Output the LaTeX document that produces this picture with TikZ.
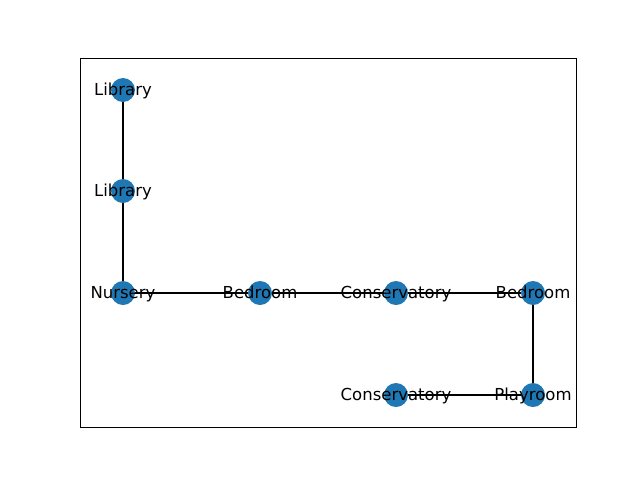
\documentclass[tikz,border=0pt]{standalone}
\usepackage{fontspec}
\setmainfont{DejaVu Sans}
\usetikzlibrary{backgrounds}
\begin{document}
\begin{tikzpicture}
[x=1pt, y=-1pt, every label/.style={font=\fontsize{16.5}{19}\selectfont, text height=1.5ex, text depth=0.25ex, inner sep=0pt, yshift=-2pt}]
\tikzstyle{room}=[circle, fill={rgb,255:red,31;green,119;blue,180}, inner sep=0mm, minimum size=24pt]
\useasboundingbox (0,0) rectangle (640,480);
\draw[line width=0.9pt] (80,58) rectangle (576,427);
\node[room]	(lib1)	at (123,90)	[label=center:{Library}] {};
\node[room]	(lib2)	at (123,191)	[label=center:{Library}] {};
\node[room]	(nurs)	at (123,293)	[label=center:{Nursery}] {};
\node[room]	(bed1)	at (260,293)	[label=center:{Bedroom}] {};
\node[room]	(cons1)	at (396,293)	[label=center:{Conservatory}] {};
\node[room]	(bed2)	at (533,293)	[label=center:{Bedroom}] {};
\node[room]	(cons2)	at (396,395)	[label=center:{Conservatory}] {};
\node[room]	(play)	at (533,395)	[label=center:{Playroom}] {};

\begin{scope}[on background layer]
\draw[line width=1.1pt]	(lib1.center)--(lib2.center)--(nurs.center)--(bed1.center)--(cons1.center)--(bed2.center)--(play.center);
\draw[line width=1.1pt]	(cons2.center)--(play.center);
\end{scope}
\end{tikzpicture}
\end{document}
